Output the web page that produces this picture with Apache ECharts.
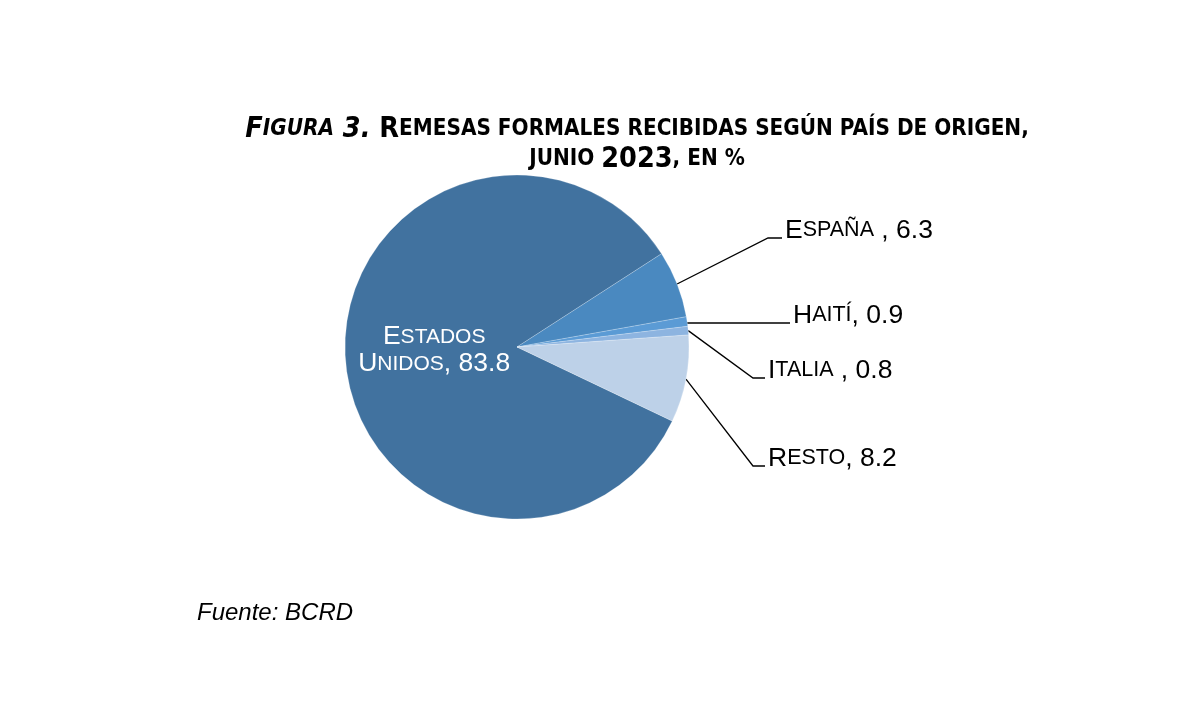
<!DOCTYPE html>
<html>
<head>
<meta charset="utf-8">
<script src="https://cdn.jsdelivr.net/npm/echarts@6/dist/echarts.min.js"></script>
<style>
html,body{margin:0;padding:0;background:#fff;}
#chart{width:1200px;height:711px;}
</style>
</head>
<body>
<div id="chart"></div>
<script>
// ---- data ----
const categories = ['Estados Unidos', 'España', 'Haití', 'Italia', 'Resto'];
const values = [83.8, 6.3, 0.9, 0.8, 8.2];
const separators = [', ', ' , ', ', ', ' , ', ', '];
const colors = ['#41729F', '#4A89C0', '#5B9BD5', '#8DB4E0', '#BDD1E8'];
const titleFigure = 'Figura';
const titleNumber = '3.';
const titleLine1 = 'Remesas formales recibidas según país de origen,';
const titleLine2 = ['junio', '2023', ', en %'];
const sourceText = 'Fuente: BCRD';

// ---- layout (label geometry only) ----
const labelElbows = [null, [768, 238], null, [753, 378], [753, 466]];
const labelEnds = [null, [782, 238], [790, 323], [765, 378], [765, 466]];

// small caps: first letter of each capitalised word big, everything else small uppercase
function smallCapsWord(w, big, small) {
  if (!w) return '';
  return '{' + big + '|' + w.charAt(0).toUpperCase() + '}' +
    (w.length > 1 ? '{' + small + '|' + w.slice(1).toUpperCase() + '}' : '');
}
function allSmall(str, small) {
  return '{' + small + '|' + str.toUpperCase() + '}';
}

const chart = echarts.init(document.getElementById('chart'), null, {renderer: 'canvas'});
const FONT = "'Liberation Sans', Arial, sans-serif";
const NARROW = "'Liberation Sans Narrow', 'DejaVu Sans Condensed', 'Liberation Sans', sans-serif";

const richOut = {
  b: {fontSize: 26.5, fontFamily: FONT, color: '#000'},
  s: {fontSize: 21.5, fontFamily: FONT, color: '#000'}
};
const richIn = {
  b: {fontSize: 26.5, fontFamily: FONT, color: '#fff', lineHeight: 27},
  s: {fontSize: 21, fontFamily: FONT, color: '#fff', lineHeight: 27}
};

const data = categories.map((name, i) => {
  const item = {name: name, value: values[i], itemStyle: {color: colors[i]}};
  if (i === 0) {
    item.label = {position: 'inside', rich: richIn, align: 'center'};
    item.labelLine = {show: false};
  }
  return item;
});

function labelFormatter(p) {
  const i = p.dataIndex;
  const val = values[i].toFixed(1);
  if (i === 0) {
    const words = categories[i].split(' ');
    return smallCapsWord(words[0], 'b', 's') + '\n' + smallCapsWord(words[1], 'b', 's') +
      '{b|' + separators[i] + val + '}';
  }
  return smallCapsWord(categories[i], 'b', 's') + '{b|' + separators[i] + val + '}';
}

const title1 = '{fi|' + titleFigure.charAt(0).toUpperCase() + '}{fis|' + titleFigure.slice(1).toUpperCase() + '}{fi| ' + titleNumber + '}{tb| }' +
  smallCapsWord(titleLine1.split(' ')[0], 'tb', 'ts') + allSmall(' ' + titleLine1.split(' ').slice(1).join(' '), 'ts');
const title2 = allSmall(titleLine2[0] + ' ', 'ts') + '{tb|' + titleLine2[1] + '}' + allSmall(titleLine2[2], 'ts');

const titleRich = {
  fi: {fontSize: 28.5, fontWeight: 'bold', fontStyle: 'italic', fontFamily: NARROW, fill: '#000'},
  fis: {fontSize: 22.3, fontWeight: 'bold', fontStyle: 'italic', fontFamily: NARROW, fill: '#000'},
  tb: {fontSize: 28.5, fontWeight: 'bold', fontFamily: NARROW, fill: '#000'},
  ts: {fontSize: 22.3, fontWeight: 'bold', fontFamily: NARROW, fill: '#000'}
};

chart.setOption({
  backgroundColor: '#fff',
  animation: false,
  graphic: [
    {type: 'text', x: 637, y: 144, style: {text: title1, rich: titleRich, textAlign: 'center', textVerticalAlign: 'bottom', fill: '#000'}},
    {type: 'text', x: 637, y: 174, style: {text: title2, rich: titleRich, textAlign: 'center', textVerticalAlign: 'bottom', fill: '#000'}},
    {type: 'text', x: 197, y: 601, style: {text: sourceText, font: "italic 24px 'Liberation Sans', Arial, sans-serif", fill: '#000'}}
  ],
  series: [{
    type: 'pie',
    center: [517, 347],
    radius: 172,
    startAngle: 334.5,
    clockwise: true,
    avoidLabelOverlap: false,
    data: data,
    itemStyle: {borderColor: 'rgba(255,255,255,0.35)', borderWidth: 0.6},
    label: {
      show: true,
      position: 'outside',
      formatter: labelFormatter,
      rich: richOut,
      color: '#000'
    },
    labelLine: {show: true, length: 60, length2: 15, lineStyle: {color: '#000', width: 1.3}},
    labelLayout: function (params) {
      const i = params.dataIndex;
      if (i === 0) return {dx: 6, dy: -2};
      if (!params.labelLinePoints) return {};
      const start = params.labelLinePoints[0];
      const end = labelEnds[i];
      let pts;
      if (labelElbows[i]) {
        pts = [start, labelElbows[i], end];
      } else {
        pts = [[start[0], end[1]], [(start[0] + end[0]) / 2, end[1]], end];
      }
      return {
        x: end[0] + 3,
        y: end[1] + 6,
        align: 'left',
        verticalAlign: 'bottom',
        labelLinePoints: pts
      };
    }
  }]
});
</script>
</body>
</html>
